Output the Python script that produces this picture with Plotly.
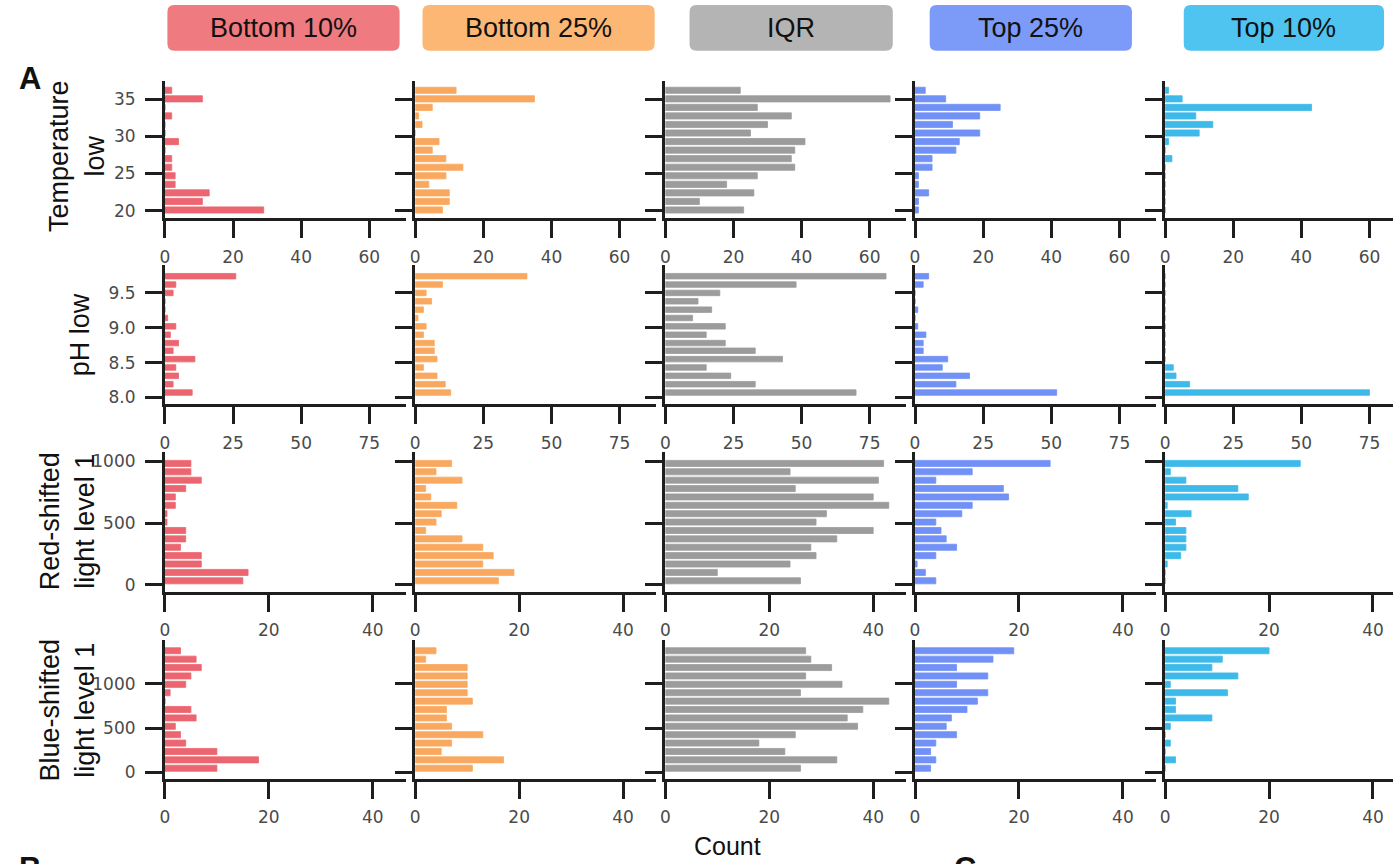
import plotly.graph_objects as go

W, H = 1393, 864

# ---------------- data ----------------
groups = ["Bottom 10%", "Bottom 25%", "IQR", "Top 25%", "Top 10%"]
header_colors = ["#EF7A80", "#FDB774", "#B4B4B4", "#7C9AF8", "#4FC4F0"]
bar_colors = ["#EB6670", "#F9A85F", "#9C9C9C", "#7191F6", "#3DBAEA"]
row_titles = ["Temperature<br>low", "pH low", "Red-shifted<br>light level 1", "Blue-shifted<br>light level 1"]

# bin centres (bottom to top)
temp_bins = [20.1, 21.25, 22.4, 23.55, 24.7, 25.85, 27.0, 28.15, 29.3, 30.45, 31.6, 32.75, 33.9, 35.05, 36.2]
ph_bins = [8.07, 8.19, 8.31, 8.43, 8.55, 8.67, 8.78, 8.90, 9.02, 9.14, 9.26, 9.38, 9.50, 9.62, 9.74]
red_bins = [33.8, 101.5, 169.2, 236.9, 304.6, 372.3, 440, 507.7, 575.4, 643.1, 710.8, 778.5, 846.2, 913.9, 981.6]
blue_bins = [47, 141.7, 236.4, 331.1, 425.8, 520.5, 615.2, 709.9, 804.6, 899.3, 994, 1088.7, 1183.4, 1278.1, 1372.8]

# counts (bottom bin first)
temp_b10 = [29, 11, 13, 3, 3, 2, 2, 0, 4, 0, 0, 2, 0, 11, 2]
temp_b25 = [8, 10, 10, 4, 9, 14, 9, 5, 7, 0, 2, 1, 5, 35, 12]
temp_iqr = [23, 10, 26, 18, 27, 38, 37, 38, 41, 25, 30, 37, 27, 66, 22]
temp_t25 = [1, 1, 4, 1, 1, 5, 5, 12, 13, 19, 11, 19, 25, 9, 3]
temp_t10 = [0, 0, 0, 0, 0, 0, 2, 0, 1, 10, 14, 9, 43, 5, 1]

ph_b10 = [10, 3, 5, 4, 11, 3, 5, 2, 4, 1, 0, 0, 3, 4, 26]
ph_b25 = [13, 11, 8, 3, 8, 7, 7, 3, 4, 1, 3, 6, 4, 10, 41]
ph_iqr = [70, 33, 24, 15, 43, 33, 22, 15, 22, 10, 17, 12, 20, 48, 81]
ph_t25 = [52, 15, 20, 10, 12, 3, 3, 4, 1, 0, 1, 0, 0, 3, 5]
ph_t10 = [75, 9, 4, 3, 0, 0, 0, 0, 0, 0, 0, 0, 0, 0, 0]

red_b10 = [15, 16, 7, 7, 3, 4, 4, 0.4, 0.4, 2, 2, 4, 7, 5, 5]
red_b25 = [16, 19, 13, 15, 13, 9, 2, 4, 5, 8, 3, 2, 9, 4, 7]
red_iqr = [26, 10, 24, 29, 28, 33, 40, 29, 31, 43, 40, 25, 41, 24, 42]
red_t25 = [4, 2, 0.4, 4, 8, 6, 5, 4, 9, 11, 18, 17, 4, 11, 26]
red_t10 = [0, 0, 0.4, 3, 4, 4, 4, 2, 5, 0.4, 16, 14, 4, 1, 26]

blue_b10 = [10, 18, 10, 4, 3, 2, 6, 5, 0, 1, 4, 5, 7, 6, 3]
blue_b25 = [11, 17, 5, 7, 13, 7, 6, 6, 11, 10, 10, 10, 10, 2, 4]
blue_iqr = [26, 33, 23, 18, 25, 37, 35, 38, 43, 26, 34, 27, 32, 28, 27]
blue_t25 = [3, 4, 3, 4, 8, 6, 7, 10, 12, 14, 8, 14, 8, 15, 19]
blue_t10 = [0, 2, 0, 1, 0, 1, 9, 2, 2, 12, 1, 14, 9, 11, 20]

rows = [
    (temp_bins, [temp_b10, temp_b25, temp_iqr, temp_t25, temp_t10]),
    (ph_bins, [ph_b10, ph_b25, ph_iqr, ph_t25, ph_t10]),
    (red_bins, [red_b10, red_b25, red_iqr, red_t25, red_t10]),
    (blue_bins, [blue_b10, blue_b25, blue_iqr, blue_t25, blue_t10]),
]

x_tickvals = [[0, 20, 40, 60], [0, 25, 50, 75], [0, 20, 40], [0, 20, 40]]
y_tickvals = [[20, 25, 30, 35], [8.0, 8.5, 9.0, 9.5], [0, 500, 1000], [0, 500, 1000]]
y_tickfmt = ["d", ".1f", "d", "d"]

# ---------------- layout geometry (pixels) ----------------
col_x0 = [160.5, 411.7, 662.7, 913.3, 1164.3]
panel_w = 242.0
row_top = [80.0, 265.0, 453.3, 642.0]
row_bot = [218.3, 405.0, 593.3, 781.5]
x_full = [70.8, 88.5, 46.4, 46.4]
y_ranges = [[18.98, 37.5], [7.904, 9.904], [-53, 1072], [-73, 1494]]


def px(x):
    return x / W


def py(y):
    return 1 - y / H


AX = "#1e1e1e"
TICKFONT = dict(family="DejaVu Sans", size=17, color="#4a4a4a")

fig = go.Figure()
layout = {}
for r, (bins, series) in enumerate(rows):
    for c, vals in enumerate(series):
        i = r * 5 + c + 1
        xs = "x" if i == 1 else f"x{i}"
        ys = "y" if i == 1 else f"y{i}"
        fig.add_trace(go.Bar(
            x=vals, y=bins, orientation="h", xaxis=xs, yaxis=ys,
            marker=dict(color=bar_colors[c], line=dict(width=0.8, color=bar_colors[c])),
            showlegend=False, hoverinfo="x+y",
        ))
        x0 = col_x0[c]
        x1 = min(x0 + panel_w, W)
        xmax = x_full[r] * (x1 - x0) / panel_w
        kx = "xaxis" if i == 1 else f"xaxis{i}"
        ky = "yaxis" if i == 1 else f"yaxis{i}"
        layout[kx] = dict(
            domain=[px(x0), px(x1)], anchor=ys, range=[0, xmax],
            showline=True, linecolor=AX, linewidth=3, mirror=False,
            ticks="outside", ticklen=17, tickwidth=3, tickcolor=AX,
            tickvals=x_tickvals[r], tickfont=TICKFONT, ticklabelstandoff=4,
            showgrid=False, zeroline=False, fixedrange=True,
        )
        layout[ky] = dict(
            domain=[py(row_bot[r]), py(row_top[r])], anchor=xs, range=y_ranges[r],
            showline=True, linecolor=AX, linewidth=3,
            ticks="outside", ticklen=17, tickwidth=3, tickcolor=AX,
            tickvals=y_tickvals[r], tickformat=y_tickfmt[r],
            showticklabels=(c == 0), tickfont=TICKFONT, ticklabelstandoff=6,
            showgrid=False, zeroline=False, fixedrange=True,
        )

fig.update_layout(**layout)

# ---------------- header boxes ----------------
header_boxes = [(163, 396), (419, 652), (687, 891), (928, 1131), (1183, 1384)]
shapes = []
annotations = []
HEAD_FONT = dict(family="Liberation Sans, Arial", size=27, color="#111111")
for (bx0, bx1), col, name in zip(header_boxes, header_colors, groups):
    by0, by1, rad = 4, 50, 7
    pts = (
        f"M {px(bx0 + rad)},{py(by0)} L {px(bx1 - rad)},{py(by0)} "
        f"Q {px(bx1)},{py(by0)} {px(bx1)},{py(by0 + rad)} "
        f"L {px(bx1)},{py(by1 - rad)} Q {px(bx1)},{py(by1)} {px(bx1 - rad)},{py(by1)} "
        f"L {px(bx0 + rad)},{py(by1)} Q {px(bx0)},{py(by1)} {px(bx0)},{py(by1 - rad)} "
        f"L {px(bx0)},{py(by0 + rad)} Q {px(bx0)},{py(by0)} {px(bx0 + rad)},{py(by0)} Z"
    )
    shapes.append(dict(type="path", path=pts, xref="paper", yref="paper",
                       fillcolor=col, line=dict(width=0), layer="below"))
    annotations.append(dict(text=name, x=px((bx0 + bx1) / 2), y=py(27), xref="paper", yref="paper",
                            showarrow=False, xanchor="center", yanchor="middle", font=HEAD_FONT))

# row titles
TITLE_FONT = dict(family="Liberation Sans, Arial", size=27, color="#111111")
title_pos = [(72, 156), (76, 335), (63, 523), (63, 712)]
for (tx, ty), t in zip(title_pos, row_titles):
    annotations.append(dict(text=t, x=px(tx), y=py(ty), xref="paper", yref="paper", showarrow=False,
                            textangle=-90, xanchor="center", yanchor="middle", font=TITLE_FONT))

# Count label and panel letters
annotations.append(dict(text="Count", x=px(725), y=py(849), xref="paper", yref="paper", showarrow=False,
                        xanchor="center", yanchor="middle",
                        font=dict(family="Liberation Sans, Arial", size=25, color="#111111")))
annotations.append(dict(text="<b>A</b>", x=px(25), y=py(78), xref="paper", yref="paper", showarrow=False,
                        xanchor="center", yanchor="middle",
                        font=dict(family="Liberation Sans, Arial", size=31, color="#111111")))
annotations.append(dict(text="<b>B</b>", x=px(25), y=py(852), xref="paper", yref="paper", showarrow=False,
                        xanchor="center", yanchor="top",
                        font=dict(family="Liberation Sans, Arial", size=31, color="#111111")))
annotations.append(dict(text="<b>C</b>", x=px(963), y=py(852), xref="paper", yref="paper", showarrow=False,
                        xanchor="center", yanchor="top",
                        font=dict(family="Liberation Sans, Arial", size=31, color="#111111")))

fig.update_layout(
    width=W, height=H, margin=dict(l=0, r=0, t=0, b=0),
    paper_bgcolor="white", plot_bgcolor="white",
    bargap=0.28, shapes=shapes, annotations=annotations,
)

fig.write_html("out.html", config={"displayModeBar": False},
               post_script="document.body.style.margin='0';document.body.style.overflow='hidden';")
